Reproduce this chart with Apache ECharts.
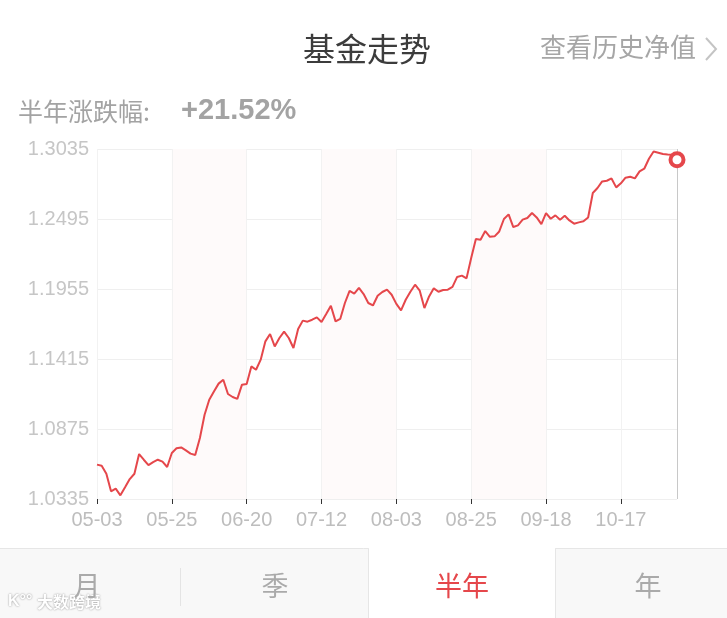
<!DOCTYPE html>
<html>
<head>
<meta charset="utf-8">
<script src="https://cdn.jsdelivr.net/npm/echarts@6/dist/echarts.min.js"></script>
<style>
html,body{margin:0;padding:0;background:#fff;}
#chart{width:727px;height:618px;}
</style>
</head>
<body>
<div id="chart"></div>
<script>
// Trading dates (2017-05-03 .. 2017-11-02)
const dates = [
 '05-03','05-04','05-05','05-08','05-09','05-10','05-11','05-12','05-15','05-16','05-17','05-18','05-19','05-22','05-23','05-24','05-25','05-26','05-31',
 '06-01','06-02','06-05','06-06','06-07','06-08','06-09','06-12','06-13','06-14','06-15','06-16','06-19','06-20','06-21','06-22','06-23','06-26','06-27','06-28','06-29','06-30',
 '07-03','07-04','07-05','07-06','07-07','07-10','07-11','07-12','07-13','07-14','07-17','07-18','07-19','07-20','07-21','07-24','07-25','07-26','07-27','07-28','07-31',
 '08-01','08-02','08-03','08-04','08-07','08-08','08-09','08-10','08-11','08-14','08-15','08-16','08-17','08-18','08-21','08-22','08-23','08-24','08-25','08-28','08-29','08-30','08-31',
 '09-01','09-04','09-05','09-06','09-07','09-08','09-11','09-12','09-13','09-14','09-15','09-18','09-19','09-20','09-21','09-22','09-25','09-26','09-27','09-28','09-29',
 '10-09','10-10','10-11','10-12','10-13','10-16','10-17','10-18','10-19','10-20','10-23','10-24','10-25','10-26','10-27','10-30','10-31',
 '11-01','11-02'
];
// Net asset values
const navValues = [
 1.0600,1.0592,1.0530,1.0394,1.0415,1.0363,1.0425,1.0489,1.0530,1.0682,
 1.0638,1.0597,1.0620,1.0638,1.0623,1.0582,1.0690,1.0726,1.0733,1.0710,
 1.0685,1.0675,1.0806,1.0985,1.1101,1.1165,1.1225,1.1255,1.1145,1.1122,
 1.1107,1.1217,1.1222,1.1358,1.1332,1.1410,1.1551,1.1608,1.1512,1.1577,
 1.1626,1.1577,1.1500,1.1646,1.1711,1.1703,1.1718,1.1736,1.1700,1.1762,
 1.1826,1.1705,1.1724,1.1847,1.1940,1.1919,1.1963,1.1916,1.1847,1.1828,
 1.1903,1.1932,1.1950,1.1911,1.1840,1.1790,1.1872,1.1934,1.1988,1.1942,
 1.1808,1.1898,1.1960,1.1934,1.1947,1.1950,1.1971,1.2048,1.2058,1.2037,
 1.2194,1.2341,1.2335,1.2402,1.2358,1.2361,1.2399,1.2495,1.2531,1.2433,
 1.2446,1.2490,1.2503,1.2541,1.2507,1.2456,1.2540,1.2497,1.2523,1.2490,
 1.2520,1.2484,1.2459,1.2469,1.2477,1.2507,1.2696,1.2734,1.2785,1.2790,
 1.2808,1.2739,1.2770,1.2814,1.2821,1.2808,1.2862,1.2883,1.2960,1.3016,
 1.3006,1.2996,1.2993,1.2991,1.2952
];
const yMin = 1.0335;
const yMax = 1.3035;
const yStep = 0.054;
const labelEvery = 16;
const titleText = '基金走势';
const linkText = '查看历史净值';
const changeLabel = '半年涨跌幅:';
const changeValue = '+21.52%';
const tabs = ['月', '季', '半年', '年'];

const RED = '#e5474b';
const chart = echarts.init(document.getElementById('chart'), null, {renderer: 'canvas'});

const lastIdx = navValues.length - 1;

const tabCenters = [87, 275, 462, 648];
const graphics = [
  {type: 'text', x: 367, y: 49, style: {text: titleText, fill: '#3c3c3c', font: '32px "Noto Sans CJK SC"', align: 'center', verticalAlign: 'middle'}},
  {type: 'text', left: 540, top: 34, style: {text: linkText, fill: '#a6a6a6', font: '26px "Noto Sans CJK SC"'}},
  {type: 'polyline', shape: {points: [[706, 38], [716, 49], [706, 60]]}, style: {stroke: '#c4c4c4', lineWidth: 2, fill: null}},
  {type: 'text', x: 18, y: 111, style: {text: changeLabel, fill: '#a3a3a3', font: '25px "Noto Sans CJK SC"', verticalAlign: 'middle'}},
  {type: 'text', x: 181, y: 111, style: {text: changeValue, fill: '#a3a3a3', font: 'bold 29px "Liberation Sans", Arial', verticalAlign: 'middle'}},
  // tab bar
  {type: 'rect', shape: {x: 0, y: 548, width: 727, height: 70}, style: {fill: '#f8f8f8'}, z: 0},
  {type: 'line', shape: {x1: 0, y1: 548.5, x2: 727, y2: 548.5}, style: {stroke: '#e6e6e6', lineWidth: 1}},
  {type: 'rect', shape: {x: 368.5, y: 548.5, width: 187, height: 70}, style: {fill: '#ffffff', stroke: '#e6e6e6', lineWidth: 1}},
  {type: 'rect', shape: {x: 369, y: 548, width: 186, height: 2}, style: {fill: '#ffffff'}},
  {type: 'line', shape: {x1: 180.5, y1: 568, x2: 180.5, y2: 606}, style: {stroke: '#e4e4e4', lineWidth: 1}},
  {type: 'text', left: 8, top: 594, style: {text: 'K°°', fill: '#ffffff', font: 'bold 16px "Liberation Sans"', textShadowColor: 'rgba(0,0,0,0.45)', textShadowBlur: 2}},
  {type: 'text', left: 37, top: 594, style: {text: '大数跨境', fill: '#ffffff', font: 'bold 16px "Noto Sans CJK SC"', textShadowColor: 'rgba(0,0,0,0.45)', textShadowBlur: 2}}
];
tabs.forEach((t, i) => {
  graphics.push({type: 'text', x: tabCenters[i], y: 586,
    style: {text: t, fill: i === 2 ? RED : '#aaaaaa', font: '27px "Noto Sans CJK SC"', align: 'center', verticalAlign: 'middle'}});
});

const option = {
  animation: false,
  backgroundColor: '#ffffff',
  grid: {left: 97, right: 50, top: 149, bottom: 119, containLabel: false},
  xAxis: {
    type: 'category',
    data: dates,
    boundaryGap: false,
    axisLine: {show: false},
    axisTick: {show: true, interval: labelEvery - 1, length: 5, lineStyle: {color: '#333'}},
    axisLabel: {interval: labelEvery - 1, color: '#bdbdbd', fontSize: 20, fontFamily: '"Liberation Sans", Arial', margin: 11},
    splitLine: {show: true, interval: labelEvery - 1, lineStyle: {color: '#f2f2f2'}},
    splitArea: {show: true, interval: labelEvery - 1, areaStyle: {color: ['rgba(255,255,255,0)', '#fefafa']}}
  },
  yAxis: {
    type: 'value',
    min: yMin,
    max: yMax,
    interval: yStep,
    axisLine: {show: false},
    axisTick: {show: false},
    axisLabel: {color: '#c6c6c6', fontSize: 20, fontFamily: '"Liberation Sans", Arial', margin: 8,
      formatter: v => v.toFixed(4)},
    splitLine: {show: true, lineStyle: {color: '#efefef'}}
  },
  series: [{
    type: 'line',
    data: navValues,
    showSymbol: false,
    lineStyle: {color: RED, width: 2},
    itemStyle: {color: RED},
    z: 3,
    markLine: {
      silent: true,
      symbol: 'none',
      label: {show: false},
      lineStyle: {color: '#c8c8c8', width: 1, type: 'solid'},
      data: [{xAxis: dates[lastIdx]}]
    },
    markPoint: {
      silent: true,
      symbol: 'circle',
      symbolSize: 13,
      label: {show: false},
      itemStyle: {color: '#ffffff', borderColor: RED, borderWidth: 4},
      data: [{coord: [dates[lastIdx], navValues[lastIdx]]}]
    }
  }],
  graphic: graphics
};
chart.setOption(option);
</script>
</body>
</html>
